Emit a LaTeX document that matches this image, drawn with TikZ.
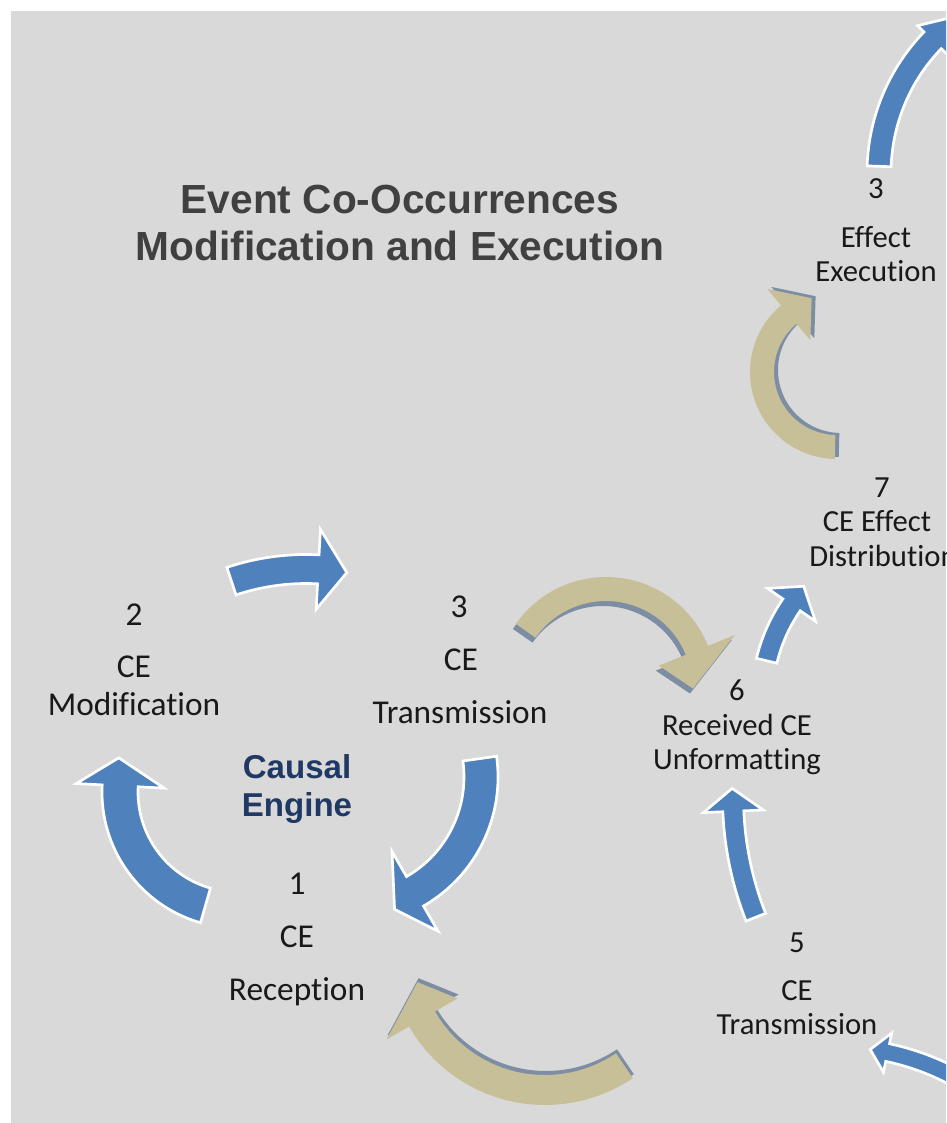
\documentclass[tikz,border=0pt]{standalone}
\usepackage{fontspec}
\setmainfont{Carlito}[Ligatures={NoCommon}]
\newfontfamily\headfont{Liberation Sans}
\definecolor{bggray}{HTML}{D9D9D9}
\definecolor{arrowblue}{HTML}{4F81BD}
\definecolor{arrowtan}{HTML}{C7BF98}
\definecolor{tanshade}{HTML}{7D8DA3}
\definecolor{titlegray}{HTML}{404040}
\definecolor{enginenavy}{HTML}{1F3864}

% Curved block arrow on a circle:
% #1 style, #2 centre, #3 radius, #4 shaft width, #5 tail angle,
% #6 head-base angle, #7 head width, #8 tip angle, #9 tip radius
\newcommand{\ringarrow}[9]{%
  \begin{scope}[shift={#2}]
    \path[#1] (#5:{#3+#4/2})
      arc[start angle=#5, end angle=#6, radius={#3+#4/2}]
      -- (#6:{#3+#7/2}) -- (#8:#9) -- (#6:{#3-#7/2}) -- (#6:{#3-#4/2})
      arc[start angle=#6, end angle=#5, radius={#3-#4/2}] -- cycle;
  \end{scope}}

\begin{document}
\begin{tikzpicture}[x=0.75pt,y=-0.75pt,
  bluearrow/.style={fill=arrowblue, draw=white, line width=2pt},
  tanarrow/.style={fill=arrowtan},
  tanback/.style={fill=tanshade},
  lbl/.style={inner sep=0pt, text height=0.64em, text depth=0pt, text=black!90,
    font=\fontsize{25}{30}\selectfont},
  lbls/.style={lbl, font=\fontsize{23}{27}\selectfont},
  title/.style={inner sep=0pt, text height=0.72em, text depth=0pt, text=titlegray,
    font=\headfont\bfseries\fontsize{30.5}{35}\selectfont},
  engine/.style={inner sep=0pt, text height=0.72em, text depth=0pt, text=enginenavy,
    font=\headfont\bfseries\fontsize{24.8}{29}\selectfont}]
\useasboundingbox (0,0) rectangle (946,1123);
\clip (0,0) rectangle (946,1123);
\fill[bggray] (11,11) rectangle (946,1123);

% title
\node[title] (t1) at (400,209) {Event Co-Occurrences};
\node[title] (t2) at (400,256) {Modification and Execution};
\node[engine] (e1) at (297,774) {Causal};
\node[engine] (e2) at (297,812) {Engine};

% causal engine steps
\node[lbl] (m1) at (134,621) {2};
\node[lbl] (m2) at (134,673) {CE};
\node[lbl] (m3) at (134,711) {Modification};
\node[lbl] (s1) at (459,613) {3};
\node[lbl] (s2) at (461,666) {CE};
\node[lbl] (s3) at (460,719) {Transmission};
\node[lbl] (r1) at (297,890) {1};
\node[lbl] (r2) at (297,943) {CE};
\node[lbl] (r3) at (297,996) {Reception};

% receiving side
\node[lbls] (u1) at (737,696) {6};
\node[lbls] (u2) at (737,731) {Received CE};
\node[lbls] (u3) at (737,765) {Unformatting};
\node[lbls] (v1) at (797,948) {5};
\node[lbls] (v2) at (797,996) {CE};
\node[lbls] (v3) at (797,1030) {Transmission};
\node[lbls] (d1) at (882,493) {7};
\node[lbls] (d2) at (877,527) {CE Effect};
\node[lbls] (d3) at (883,562) {Distribution};
\node[lbls] (x1) at (876,194) {3};
\node[lbls] (x2) at (876,243) {Effect};
\node[lbls] (x3) at (876,277) {Execution};

% blue ribbon arrows
\ringarrow{bluearrow}{(1070,173)}{191}{24}{182}{224}{42}{236}{191}
\ringarrow{bluearrow}{(306,804)}{235}{29}{251.5}{273}{80}{280}{235}
\ringarrow{bluearrow}{(349,777)}{132}{34}{-8}{60}{92}{71}{140}
\ringarrow{bluearrow}{(238,792)}{118}{36}{106}{183}{88}{196}{124}
\ringarrow{bluearrow}{(1061,797)}{328}{21}{158.5}{177.5}{60}{181.5}{329}
\ringarrow{bluearrow}{(930,700)}{168}{21}{193.5}{214.5}{58}{222}{170}
\ringarrow{bluearrow}{(835,1300)}{253}{18}{320}{282}{40}{278}{253}

% tan arrows with their darker underside
\ringarrow{tanback}{(841,370)}{75}{24}{91.5}{230}{67}{251}{78}
\ringarrow{tanarrow}{(837,372)}{75}{24}{91.5}{230}{67}{251}{78}
\ringarrow{tanback}{(603,692)}{98}{24}{215}{338}{82}{361}{87}
\ringarrow{tanarrow}{(606,687)}{98}{24}{215}{338}{82}{361}{87}
\ringarrow{tanback}{(546,944)}{142}{30}{56}{150}{82}{165}{132}
\ringarrow{tanarrow}{(545,948)}{142}{30}{56}{150}{82}{165}{132}
\end{tikzpicture}
\end{document}
